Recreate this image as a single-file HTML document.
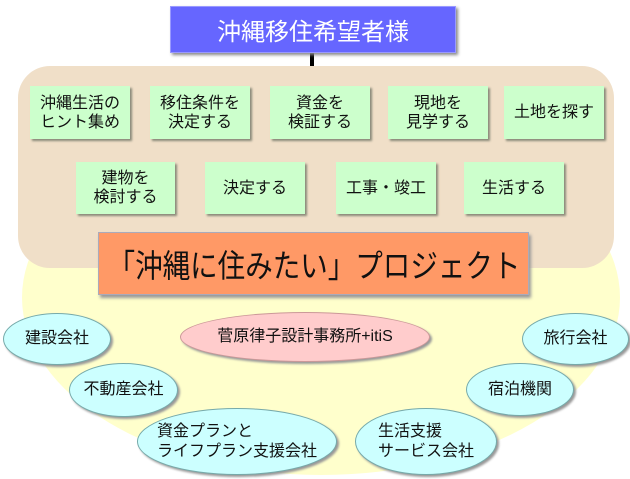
<!DOCTYPE html>
<html><head><meta charset="utf-8"><style>
body{margin:0;width:630px;height:479px;background:#fff;position:relative;overflow:hidden;font-family:"Liberation Sans","Noto Sans CJK JP",sans-serif;}
.a{position:absolute;box-sizing:border-box;display:flex;align-items:center;justify-content:center;text-align:center;white-space:nowrap;}
.g{background:#ccffcc;box-shadow:2px 2px 2px #8a8a7a;font-size:16px;line-height:19px;color:#111;}
.e{border-radius:50%;background:#ccffff;border:1px solid #7aa;box-shadow:2px 2px 2px #999;font-size:16px;line-height:20px;color:#111;}
</style></head><body>
<div style="position:absolute;left:22px;top:120px;width:598px;height:355px;border-radius:50%;background:#ffffcc;"></div>
<div style="position:absolute;left:18px;top:66px;width:596px;height:202px;border-radius:32px;background:#f0dfc8;"></div>
<div style="position:absolute;left:310px;top:53px;width:4px;height:13px;background:#000;"></div>
<div class="a" style="left:170px;top:6px;width:286px;height:47px;background:#6666ff;color:#fff;font-size:24px;box-shadow:2px 2px 3px #888;border:1px solid #99f;">沖縄移住希望者様</div>
<div class="a g" style="left:30px;top:86px;width:100px;height:53px;">沖縄生活の<br>ヒント集め</div>
<div class="a g" style="left:150px;top:86px;width:100px;height:53px;">移住条件を<br>決定する</div>
<div class="a g" style="left:270px;top:86px;width:100px;height:53px;">資金を<br>検証する</div>
<div class="a g" style="left:388px;top:86px;width:100px;height:53px;">現地を<br>見学する</div>
<div class="a g" style="left:504px;top:86px;width:100px;height:53px;">土地を探す</div>
<div class="a g" style="left:76px;top:162px;width:99px;height:52px;">建物を<br>検討する</div>
<div class="a g" style="left:205px;top:162px;width:100px;height:52px;">決定する</div>
<div class="a g" style="left:336px;top:162px;width:100px;height:52px;">工事・竣工</div>
<div class="a g" style="left:464px;top:162px;width:100px;height:52px;">生活する</div>
<div class="a" style="left:98px;top:232px;width:431px;height:63px;background:#ff9966;border:1px solid #aab;box-shadow:2px 3px 3px #999;color:#111;"><span style="font-size:32px;display:inline-block;transform:scaleX(0.86);">「沖縄に住みたい」プロジェクト</span></div>
<div class="a e" style="left:3px;top:313px;width:108px;height:52px;">建設会社</div>
<div class="a e" style="left:180px;top:312px;width:250px;height:50px;background:#ffcccc;border-color:#c99;">菅原律子設計事務所+itiS</div>
<div class="a e" style="left:522px;top:313px;width:107px;height:52px;">旅行会社</div>
<div class="a e" style="left:69px;top:363px;width:109px;height:54px;">不動産会社</div>
<div class="a e" style="left:466px;top:363px;width:108px;height:53px;">宿泊機関</div>
<div class="a e" style="left:137px;top:408px;width:200px;height:67px;text-align:left;">資金プランと<br>ライフプラン支援会社</div>
<div class="a e" style="left:355px;top:408px;width:142px;height:67px;text-align:left;">生活支援<br>サービス会社</div>
</body></html>
